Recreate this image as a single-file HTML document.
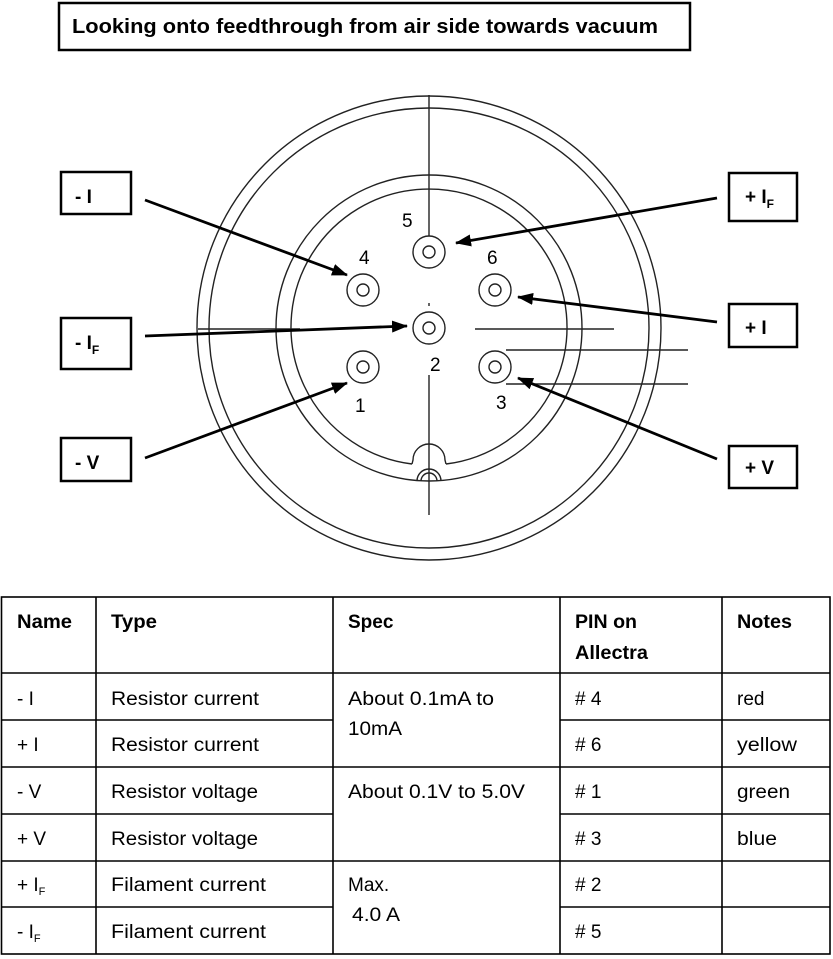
<!DOCTYPE html>
<html><head><meta charset="utf-8"><style>
html,body{margin:0;padding:0;background:#fff}
svg{display:block}
text{font-family:"Liberation Sans",sans-serif;fill:#000}
.b{font-weight:bold}
</style></head><body>
<svg width="833" height="959" viewBox="0 0 833 959" xmlns="http://www.w3.org/2000/svg">
<defs>
<marker id="ah" markerWidth="16" markerHeight="12" refX="15" refY="6" orient="auto" markerUnits="userSpaceOnUse">
<path d="M0,0 L16,6 L0,12 Z" fill="#000"/>
</marker>
</defs>
<rect x="59" y="3" width="631" height="47" fill="none" stroke="#000" stroke-width="2.5"/>
<text x="72" y="33" class="b" font-size="20" textLength="586" lengthAdjust="spacingAndGlyphs">Looking onto feedthrough from air side towards vacuum</text>

<g fill="none" stroke="#222" stroke-width="1.4">
<circle cx="429" cy="328" r="232"/>
<circle cx="429" cy="328" r="220"/>
<circle cx="429" cy="328" r="153"/>
<path d="M412,464 A138,138 0 1 1 446,464"/>
<path d="M412,464 L413,460 A16,16 0 0 1 445,460 L446,464"/>
<path d="M417,481 A12,12 0 0 1 441,481"/>
<path d="M421,481 A8,8 0 0 1 437,481"/>
<line x1="429" y1="95" x2="429" y2="236"/>
<line x1="429" y1="375" x2="429" y2="515"/>
<line x1="429" y1="303" x2="429" y2="306"/>
<line x1="198" y1="329" x2="300" y2="329"/>
<line x1="475" y1="329" x2="614" y2="329"/>
<line x1="506" y1="350" x2="688" y2="350"/>
<line x1="506" y1="384" x2="688" y2="384"/>
<circle cx="429" cy="252" r="16"/><circle cx="429" cy="252" r="6"/>
<circle cx="363" cy="290" r="16"/><circle cx="363" cy="290" r="6"/>
<circle cx="495" cy="290" r="16"/><circle cx="495" cy="290" r="6"/>
<circle cx="429" cy="328" r="16"/><circle cx="429" cy="328" r="6"/>
<circle cx="363" cy="367" r="16"/><circle cx="363" cy="367" r="6"/>
<circle cx="495" cy="367" r="16"/><circle cx="495" cy="367" r="6"/>
</g>
<g font-size="19">
<text x="402" y="227">5</text>
<text x="359" y="264">4</text>
<text x="487" y="264">6</text>
<text x="430" y="371">2</text>
<text x="355" y="412">1</text>
<text x="496" y="409">3</text>
</g>

<g stroke="#000" stroke-width="2.8" marker-end="url(#ah)">
<line x1="145" y1="200" x2="347" y2="275"/>
<line x1="717" y1="198" x2="456" y2="243"/>
<line x1="145" y1="336" x2="407" y2="326"/>
<line x1="717" y1="322" x2="518" y2="297"/>
<line x1="145" y1="458" x2="347" y2="383"/>
<line x1="717" y1="459" x2="518" y2="378"/>
</g>

<g fill="none" stroke="#000" stroke-width="2.5">
<rect x="61" y="172" width="70" height="42"/>
<rect x="61" y="318" width="70" height="51"/>
<rect x="61" y="438" width="70" height="43"/>
<rect x="729" y="173" width="68" height="48"/>
<rect x="729" y="304" width="68" height="43"/>
<rect x="729" y="446" width="68" height="42"/>
</g>
<g class="b" font-size="19" font-weight="bold">
<text x="75" y="203">- I</text>
<text x="75" y="349">- I<tspan font-size="12" dy="5">F</tspan></text>
<text x="75" y="469">- V</text>
<text x="745" y="203">+ I<tspan font-size="12" dy="5">F</tspan></text>
<text x="745" y="334">+ I</text>
<text x="745" y="474">+ V</text>
</g>

<g stroke="#000" stroke-width="1.6" fill="none">
<rect x="1.5" y="597" width="828.5" height="357"/>
<line x1="96" y1="597" x2="96" y2="954"/>
<line x1="333" y1="597" x2="333" y2="954"/>
<line x1="560" y1="597" x2="560" y2="954"/>
<line x1="722" y1="597" x2="722" y2="954"/>
<line x1="1" y1="673" x2="830" y2="673"/>
<line x1="1" y1="720" x2="333" y2="720"/><line x1="560" y1="720" x2="830" y2="720"/>
<line x1="1" y1="767" x2="830" y2="767"/>
<line x1="1" y1="814" x2="333" y2="814"/><line x1="560" y1="814" x2="830" y2="814"/>
<line x1="1" y1="861" x2="830" y2="861"/>
<line x1="1" y1="907" x2="333" y2="907"/><line x1="560" y1="907" x2="830" y2="907"/>
</g>
<g font-size="19" font-weight="bold">
<text x="17" y="628" textLength="55" lengthAdjust="spacingAndGlyphs">Name</text>
<text x="111" y="628" textLength="46" lengthAdjust="spacingAndGlyphs">Type</text>
<text x="348" y="628">Spec</text>
<text x="575" y="628" textLength="62" lengthAdjust="spacingAndGlyphs">PIN on</text>
<text x="575" y="659" textLength="73" lengthAdjust="spacingAndGlyphs">Allectra</text>
<text x="737" y="628" textLength="55" lengthAdjust="spacingAndGlyphs">Notes</text>
</g>
<g font-size="19">
<text x="17" y="705">- I</text>
<text x="17" y="751">+ I</text>
<text x="17" y="798">- V</text>
<text x="17" y="845">+ V</text>
<text x="17" y="891">+ I<tspan font-size="11" dy="4">F</tspan></text>
<text x="17" y="938">- I<tspan font-size="11" dy="4">F</tspan></text>
<text x="111" y="705" textLength="148" lengthAdjust="spacingAndGlyphs">Resistor current</text>
<text x="111" y="751" textLength="148" lengthAdjust="spacingAndGlyphs">Resistor current</text>
<text x="111" y="798" textLength="147" lengthAdjust="spacingAndGlyphs">Resistor voltage</text>
<text x="111" y="845" textLength="147" lengthAdjust="spacingAndGlyphs">Resistor voltage</text>
<text x="111" y="891" textLength="155" lengthAdjust="spacingAndGlyphs">Filament current</text>
<text x="111" y="938" textLength="155" lengthAdjust="spacingAndGlyphs">Filament current</text>
<text x="348" y="705" textLength="146" lengthAdjust="spacingAndGlyphs">About 0.1mA to</text>
<text x="348" y="735" textLength="54" lengthAdjust="spacingAndGlyphs">10mA</text>
<text x="348" y="798" textLength="177" lengthAdjust="spacingAndGlyphs">About 0.1V to 5.0V</text>
<text x="348" y="891">Max.</text>
<text x="352" y="921" textLength="48" lengthAdjust="spacingAndGlyphs">4.0 A</text>
<text x="575" y="705"># 4</text>
<text x="575" y="751"># 6</text>
<text x="575" y="798"># 1</text>
<text x="575" y="845"># 3</text>
<text x="575" y="891"># 2</text>
<text x="575" y="938"># 5</text>
<text x="737" y="705">red</text>
<text x="737" y="751" textLength="60" lengthAdjust="spacingAndGlyphs">yellow</text>
<text x="737" y="798" textLength="53" lengthAdjust="spacingAndGlyphs">green</text>
<text x="737" y="845" textLength="40" lengthAdjust="spacingAndGlyphs">blue</text>
</g>
</svg>
</body></html>
